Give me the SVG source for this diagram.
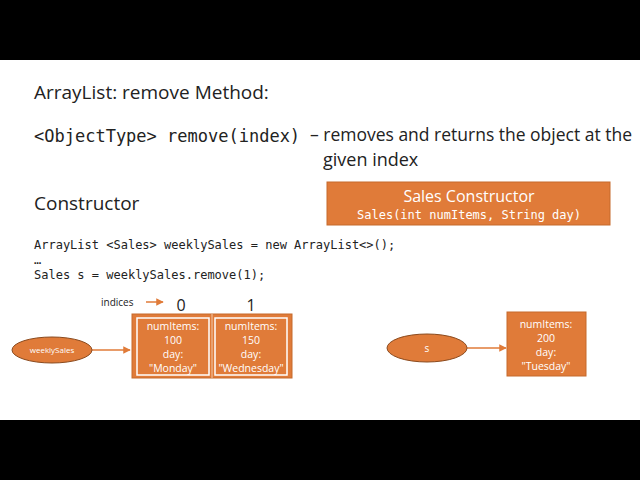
<svg xmlns="http://www.w3.org/2000/svg" width="640" height="480" viewBox="0 0 640 480">
<defs>
<style>
.t{font-family:"Open Sans","Liberation Sans",sans-serif;fill:#222}
.m{font-family:"DejaVu Sans Mono","Liberation Mono",monospace;fill:#222}
.w{font-family:"Open Sans","Liberation Sans",sans-serif;fill:#fff;text-anchor:middle}
.wm{font-family:"DejaVu Sans Mono","Liberation Mono",monospace;fill:#fff;text-anchor:middle}
.box{fill:#e07b39;stroke:#c56a2d}
.in{fill:none;stroke:#fff;stroke-width:1.5}
.ln{stroke:#e07b39;stroke-width:1.5;fill:none}
</style>
<marker id="a" viewBox="0 0 10 10" refX="9" refY="5" markerWidth="5" markerHeight="5" orient="auto"><path d="M0,0L10,5L0,10z" fill="#e07b39"/></marker>
</defs>
<rect width="640" height="480" fill="#fff"/>
<rect width="640" height="60" fill="#000"/>
<rect y="420" width="640" height="60" fill="#000"/>
<text class="t" x="34" y="99" font-size="19">ArrayList: remove Method:</text>
<text class="m" x="34" y="142" font-size="17">&lt;ObjectType&gt; remove(index)</text>
<text class="t" x="310" y="141" font-size="18" textLength="322" lengthAdjust="spacingAndGlyphs">– removes and returns the object at the</text>
<text class="t" x="323" y="166" font-size="18">given index</text>
<text class="t" x="34" y="210" font-size="19">Constructor</text>
<g id="ctor"><rect class="box" x="327" y="182" width="283" height="43"/>
<text class="w" x="469" y="202" font-size="16">Sales Constructor</text>
<text class="wm" x="469" y="219" font-size="12">Sales(int numItems, String day)</text></g>
<text class="m" x="34" y="249" font-size="12">ArrayList &lt;Sales&gt; weeklySales = new ArrayList&lt;&gt;();</text>
<text class="m" x="34" y="264" font-size="12">…</text>
<text class="m" x="34" y="279" font-size="12">Sales s = weeklySales.remove(1);</text>
<text class="t" x="101" y="306" font-size="10">indices</text>
<text class="t" x="181" y="311" font-size="16" text-anchor="middle">0</text>
<text class="t" x="251" y="311" font-size="16" text-anchor="middle">1</text>
<g id="connectors">
<line class="ln" x1="146" y1="302" x2="163" y2="302" marker-end="url(#a)"/>
<line class="ln" x1="92" y1="350" x2="130" y2="350" marker-end="url(#a)"/>
<line class="ln" x1="467" y1="348" x2="506" y2="348" marker-end="url(#a)"/>
</g>
<g id="weeklySales"><ellipse cx="52" cy="350" rx="40" ry="13" fill="#e07b39" stroke="#8a4a1e"/>
<text class="w" x="52" y="353" font-size="8">weeklySales</text></g>
<g id="list"><rect class="box" x="132" y="314" width="160" height="64"/>
<line x1="212" y1="314" x2="212" y2="378" stroke="#f2c9a8"/>
<rect class="in" x="137" y="318" width="72" height="57"/>
<rect class="in" x="215" y="318" width="72" height="57"/>
<g font-size="10.5"><text class="w" x="173" y="330">numItems:</text><text class="w" x="173" y="344">100</text><text class="w" x="173" y="358">day:</text><text class="w" x="173" y="372">"Monday"</text>
<text class="w" x="251" y="330">numItems:</text><text class="w" x="251" y="344">150</text><text class="w" x="251" y="358">day:</text><text class="w" x="251" y="372">"Wednesday"</text></g></g>
<g id="s"><ellipse cx="427" cy="348" rx="40" ry="14" fill="#e07b39" stroke="#8a4a1e"/>
<text class="w" x="427" y="352" font-size="10">s</text></g>
<g id="obj"><rect class="box" x="507" y="312" width="79" height="64"/>
<g font-size="10.5"><text class="w" x="546" y="328">numItems:</text><text class="w" x="546" y="342">200</text><text class="w" x="546" y="356">day:</text><text class="w" x="546" y="370">"Tuesday"</text></g></g>
</svg>
